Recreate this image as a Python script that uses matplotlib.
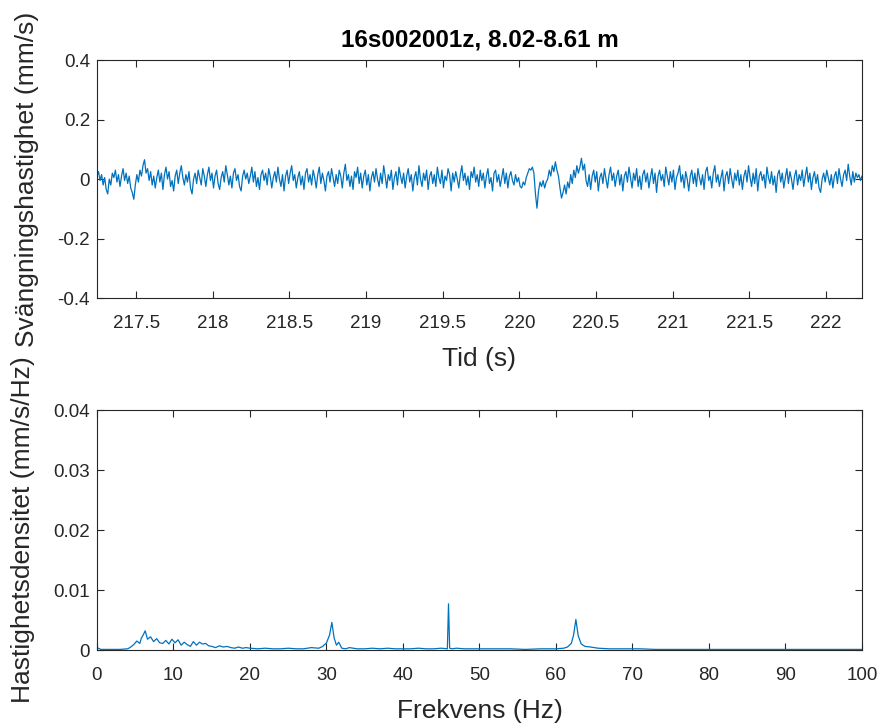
import matplotlib
matplotlib.use("Agg")
import matplotlib.pyplot as plt
import numpy as np
from matplotlib.ticker import FuncFormatter

plt.rcParams["font.family"] = ["Liberation Sans", "DejaVu Sans"]

TITLE = "16s002001z, 8.02-8.61 m"
LINE_COLOR = "#0072BD"
AX_COLOR = "#262626"

# time signal, sampled every 0.01 s starting at 217.245 s (mm/s)
T_START = 217.245
DT = 0.01
VELOCITY = [
    0.010, 0.025, -0.005, 0.015, -0.020, 0.005, -0.035, -0.050, 0.000, -0.020, 0.020, 0.005, 0.030, -0.010, 0.015, -0.025, 0.010, 0.035, -0.005, 0.020,
    -0.015, 0.010, -0.030, -0.045, -0.068, -0.020, 0.015, -0.010, 0.030, 0.010, 0.045, 0.065, 0.020, 0.035, -0.005, 0.025, -0.020, 0.010, -0.030, 0.005,
    0.030, -0.010, 0.020, -0.035, 0.015, 0.040, 0.000, 0.025, -0.025, -0.005, -0.040, 0.010, 0.030, -0.015, 0.020, 0.045, 0.005, -0.020, 0.015, -0.010,
    0.025, -0.030, -0.050, 0.000, 0.020, -0.015, 0.030, 0.005, -0.020, 0.035, 0.010, -0.025, 0.015, 0.040, -0.005, 0.020, -0.030, 0.010, 0.030, -0.015,
    -0.035, 0.005, 0.025, -0.010, 0.045, 0.015, -0.020, 0.010, -0.030, 0.020, 0.035, -0.005, 0.015, -0.025, -0.040, 0.010, 0.030, 0.000, 0.020, -0.015,
    0.010, 0.040, -0.010, 0.025, -0.025, 0.005, -0.035, 0.015, 0.030, -0.005, 0.020, -0.020, 0.035, 0.010, -0.030, 0.005, 0.025, -0.010, 0.040, 0.000,
    -0.025, 0.015, -0.040, 0.010, 0.030, -0.015, 0.020, 0.045, -0.005, 0.015, -0.030, 0.005, 0.025, -0.020, 0.010, -0.035, 0.020, 0.035, -0.010, 0.015,
    -0.020, 0.030, 0.005, -0.030, 0.015, 0.040, -0.015, 0.020, -0.005, -0.040, 0.010, 0.025, -0.010, 0.035, 0.005, -0.025, 0.015, -0.015, 0.030, 0.010,
    -0.030, 0.020, 0.050, -0.005, 0.015, -0.025, 0.010, -0.035, 0.025, 0.005, 0.040, -0.015, 0.020, -0.030, 0.010, 0.030, -0.020, 0.015, -0.040, 0.005,
    0.025, -0.010, 0.035, 0.000, -0.025, 0.020, -0.015, 0.045, 0.010, -0.030, 0.015, -0.005, 0.030, -0.035, 0.005, 0.025, -0.020, 0.040, 0.010, -0.015,
    0.020, -0.030, 0.010, 0.035, -0.010, 0.015, -0.040, 0.005, 0.025, -0.020, 0.045, 0.000, -0.025, 0.020, -0.005, 0.030, -0.035, 0.010, 0.025, -0.015,
    0.015, -0.025, 0.040, 0.005, -0.015, 0.030, -0.030, 0.010, -0.005, 0.035, 0.015, -0.040, 0.020, -0.010, 0.025, 0.000, -0.030, 0.015, 0.045, -0.005,
    0.020, -0.020, 0.010, -0.035, 0.025, 0.005, 0.040, -0.010, 0.015, -0.025, 0.030, -0.005, 0.020, -0.030, 0.010, 0.035, -0.015, 0.005, -0.040, 0.020,
    0.030, -0.010, 0.015, -0.025, 0.005, 0.035, -0.015, 0.020, -0.030, 0.010, 0.025, -0.005, -0.020, 0.015, -0.010, 0.005, -0.025, -0.030, -0.010, -0.020,
    0.005, 0.020, 0.035, 0.030, 0.040, 0.020, -0.050, -0.098, -0.040, -0.010, -0.025, -0.005, -0.030, -0.010, 0.000, 0.030, 0.010, 0.045, 0.025, 0.058,
    0.030, 0.010, -0.030, -0.064, -0.045, -0.020, -0.050, -0.010, -0.030, 0.015, -0.015, 0.030, 0.005, 0.045, 0.020, 0.040, 0.070, 0.030, 0.050, -0.005,
    -0.025, 0.015, -0.035, 0.010, 0.030, -0.010, 0.025, -0.040, 0.005, 0.020, -0.015, 0.035, 0.000, -0.030, 0.015, 0.040, -0.005, 0.020, -0.025, 0.010,
    0.030, -0.020, 0.015, -0.040, 0.010, 0.025, -0.010, 0.040, 0.005, -0.030, 0.020, -0.005, 0.035, -0.025, 0.010, -0.035, 0.015, 0.030, -0.010, 0.020,
    -0.030, 0.005, 0.035, -0.015, 0.020, -0.045, 0.010, 0.030, -0.005, 0.015, -0.025, 0.040, 0.010, -0.020, 0.025, -0.010, 0.030, -0.035, 0.005, 0.020,
    0.045, -0.010, 0.015, -0.030, 0.025, 0.000, -0.040, 0.010, 0.030, -0.015, 0.020, -0.025, 0.035, 0.005, -0.020, 0.015, -0.035, 0.025, 0.040, -0.005,
    0.010, -0.030, 0.020, 0.045, -0.010, 0.015, -0.025, 0.005, 0.030, -0.040, 0.010, 0.025, -0.015, 0.035, 0.000, -0.030, 0.020, -0.005, 0.030, -0.020,
    0.015, -0.035, 0.010, 0.030, -0.010, 0.045, 0.005, -0.025, 0.020, -0.015, 0.035, -0.040, 0.010, 0.025, -0.005, 0.015, -0.030, 0.040, 0.005, -0.015,
    0.025, -0.020, 0.010, -0.045, 0.015, 0.030, -0.010, 0.020, -0.030, 0.005, 0.035, -0.015, 0.025, 0.000, -0.035, 0.010, 0.030, -0.020, 0.015, -0.005,
    0.030, -0.025, 0.010, 0.040, -0.010, 0.020, -0.035, 0.005, 0.025, -0.015, 0.015, -0.030, -0.045, 0.000, 0.020, -0.010, 0.030, 0.005, -0.020, 0.015,
    -0.030, 0.010, 0.025, -0.015, 0.035, 0.000, -0.025, 0.015, 0.030, -0.005, 0.050, 0.010, -0.020, 0.025, -0.010, 0.020, 0.005, 0.015, -0.005, 0.010,
]

# spectrum (Hz, mm/s/Hz)
FREQ = [
    0, 0.5, 1, 2, 3, 4, 4.3, 4.8, 5.2, 5.6, 5.8, 6.0, 6.3, 6.6, 7.0, 7.4, 7.8, 8.2, 8.6, 9.0,
    9.4, 9.8, 10.2, 10.6, 11.0, 11.4, 11.8, 12.2, 12.6, 13.0, 13.4, 13.8, 14.2, 14.6, 15.0, 15.5, 16, 16.5, 17, 17.5,
    18, 18.5, 19, 19.5, 20, 21, 22, 23, 24, 25, 26, 27, 28, 29, 29.5, 30.0, 30.4, 30.7, 31.0, 31.3,
    31.6, 32.0, 32.5, 33, 34, 35, 36, 37, 38, 39, 40, 41, 42, 43, 44, 45, 45.8, 45.95, 46.1, 46.4,
    47, 48, 49, 50, 52, 54, 56, 58, 59, 60, 61, 61.5, 62.0, 62.3, 62.6, 62.9, 63.3, 63.8, 64.5, 65.5,
    67, 69, 71, 73, 76, 80, 85, 90, 95, 100,
]
DENSITY = [
    0.0004, 0.0001, 0.0001, 0.0001, 0.0001, 0.0002, 0.0004, 0.0009, 0.0015, 0.0011, 0.0020, 0.0024, 0.0032, 0.0018, 0.0022, 0.0014, 0.0019, 0.0012, 0.0011, 0.0016,
    0.0010, 0.0018, 0.0012, 0.0017, 0.0008, 0.0013, 0.0009, 0.0006, 0.0014, 0.0008, 0.0013, 0.0010, 0.0011, 0.0007, 0.0006, 0.0004, 0.0007, 0.0005, 0.0006, 0.0004,
    0.0003, 0.0005, 0.0003, 0.0004, 0.0003, 0.0002, 0.0003, 0.0002, 0.0002, 0.0003, 0.0002, 0.0002, 0.0004, 0.0003, 0.0006, 0.0012, 0.0025, 0.0046, 0.0020, 0.0008,
    0.0013, 0.0003, 0.0002, 0.0004, 0.0002, 0.0002, 0.0003, 0.0002, 0.0003, 0.0002, 0.0002, 0.0002, 0.0003, 0.0002, 0.0002, 0.0003, 0.0002, 0.0077, 0.0003, 0.0002,
    0.0003, 0.0002, 0.0002, 0.0002, 0.0002, 0.0002, 0.0001, 0.0002, 0.0002, 0.0002, 0.0003, 0.0005, 0.0011, 0.0025, 0.0051, 0.0024, 0.0010, 0.0006, 0.0005, 0.0003,
    0.0002, 0.0002, 0.0002, 0.0001, 0.0001, 0.0001, 0.0001, 0.0001, 0.0001, 0.0001,
]


def plain(v, pos):
    return f"{v:g}"


def style_axes(ax):
    for s in ax.spines.values():
        s.set_color(AX_COLOR)
        s.set_linewidth(0.8)
    ax.tick_params(direction="in", length=5, width=0.8, colors=AX_COLOR,
                   labelsize=13.5, top=True, right=True)
    ax.tick_params(axis="x", pad=12)
    ax.tick_params(axis="y", pad=5)
    ax.xaxis.set_major_formatter(FuncFormatter(plain))
    ax.yaxis.set_major_formatter(FuncFormatter(plain))


fig = plt.figure(figsize=(8.85, 7.27), dpi=100)
ax1 = fig.add_axes([0.1096, 0.590, 0.8644, 0.3274])
ax2 = fig.add_axes([0.1096, 0.1059, 0.8644, 0.330])

t = T_START + DT * np.arange(len(VELOCITY))
ax1.plot(t, VELOCITY, color=LINE_COLOR, lw=0.9)
ax1.set_xlim(217.245, 222.235)
ax1.set_ylim(-0.4, 0.4)
ax1.set_xticks(np.arange(217.5, 222.01, 0.5))
ax1.set_yticks([-0.4, -0.2, 0, 0.2, 0.4])
style_axes(ax1)
ax1.set_xlabel("Tid (s)", fontsize=19, color=AX_COLOR, labelpad=11)
ax1.set_ylabel("Svängningshastighet (mm/s)", fontsize=19, color=AX_COLOR, labelpad=13)
ax1.set_title(TITLE, fontsize=17.5, fontweight="bold", color="black", pad=10)

ax2.plot(FREQ, DENSITY, color=LINE_COLOR, lw=0.9)
ax2.set_xlim(0, 100)
ax2.set_ylim(0, 0.04)
ax2.set_xticks(np.arange(0, 101, 10))
ax2.set_yticks([0, 0.01, 0.02, 0.03, 0.04])
style_axes(ax2)
ax2.set_xlabel("Frekvens (Hz)", fontsize=19, color=AX_COLOR, labelpad=11)
ax2.set_ylabel("Hastighetsdensitet (mm/s/Hz)", fontsize=19, color=AX_COLOR, labelpad=13)

fig.savefig("out.png", dpi=100)
